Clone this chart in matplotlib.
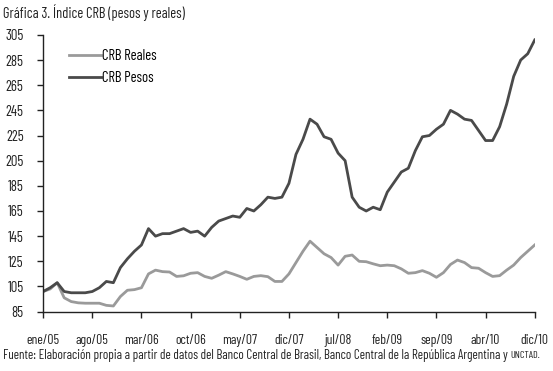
import matplotlib
matplotlib.use("Agg")
import matplotlib.pyplot as plt
from matplotlib import font_manager

# Monthly index values (ene/05 .. dic/10)
crb_pesos = [101, 104, 108, 101, 100, 100, 100, 101, 104, 109,
             108, 120, 127, 133, 138, 151, 145, 147, 147, 149,
             151, 148, 149, 145, 152, 157, 159, 161, 160, 167,
             165, 170, 176, 175, 176, 187, 210, 222, 238, 234,
             224, 222, 211, 205, 176, 168, 165, 168, 166, 180,
             188, 196, 199, 213, 224, 225, 230, 234, 245, 242,
             238, 237, 229, 221, 221, 232, 250, 272, 285, 290,
             301]
crb_reales = [101, 103, 108, 96, 93, 92, 91.7, 91.7, 91.7, 90,
              89.5, 97, 102, 102.5, 104, 115, 118, 116.8, 116.5, 113,
              113.5, 115.5, 116, 113, 111.5, 114, 116.8, 115, 113, 110.7,
              113, 113.6, 112.8, 109, 109, 115, 124, 133, 141, 136,
              131, 128, 122, 129, 130, 125, 124.7, 123, 121.5, 122,
              121.5, 119, 115.5, 116, 117.6, 115.5, 112.3, 116, 122.5, 126,
              124, 120, 119.5, 116, 113, 113.6, 118, 122, 128, 133,
              138]
tick_pos = [0, 7, 14, 21, 28, 35, 42, 49, 56, 63, 70]
tick_labels = ["ene/05", "ago/05", "mar/06", "oct/06", "may/07", "dic/07",
               "jul/08", "feb/09", "sep/09", "abr/10", "dic/10"]
y_ticks = list(range(85, 306, 20))

# condensed font if available, otherwise a plain sans
names = {f.name for f in font_manager.fontManager.ttflist}
if "Barlow Condensed" in names:
    plt.rcParams["font.family"] = ["Barlow Condensed", "DejaVu Sans"]
    k = 1.0
else:
    plt.rcParams["font.family"] = ["Liberation Sans", "DejaVu Sans"]
    k = 0.72
plt.rcParams["font.size"] = 10 * k

fig = plt.figure(figsize=(5.53, 3.71), dpi=100)
ax = fig.add_axes([0.078, 0.16, 0.889, 0.746])

x = range(len(crb_pesos))
ax.plot(x, crb_reales, color="#9a9a9a", lw=2, solid_joinstyle="round", label="CRB Reales")
ax.plot(x, crb_pesos, color="#4a4a4a", lw=2, solid_joinstyle="round", label="CRB Pesos")

ax.set_xlim(0, 70)
ax.set_ylim(85, 305)
ax.set_yticks(y_ticks)
ax.set_xticks(tick_pos)
ax.set_xticklabels(tick_labels)

for s in ("top", "right"):
    ax.spines[s].set_visible(False)
for s in ("left", "bottom"):
    ax.spines[s].set_color("#222222")
    ax.spines[s].set_linewidth(1.0)
ax.tick_params(axis="y", length=4, width=1.0, pad=10, labelsize=10.5 * k, colors="#222222")
ax.tick_params(axis="x", length=4, width=1.0, pad=12, labelsize=9.8 * k, colors="#222222")

ax.legend(loc="upper left", bbox_to_anchor=(0.025, 0.995), frameon=False,
          handlelength=2.2, handletextpad=0.1, labelspacing=0.55,
          fontsize=10.5 * k)

fig.text(0.006, 0.965, "Gráfica 3. Índice CRB (pesos y reales)",
         fontsize=10.4 * k, ha="left", va="center", color="#222222")
src = fig.text(0.006, 0.043,
               "Fuente: Elaboración propia a partir de datos del Banco Central de Brasil, "
               "Banco Central de la República Argentina y ",
               fontsize=9.4 * k, ha="left", va="center", color="#222222")
# UNCTAD is set in small caps in the original
fig.canvas.draw()
bb = src.get_window_extent().transformed(fig.transFigure.inverted())
fig.text(bb.x1, 0.043, "UNCTAD.", fontsize=7.4 * k, ha="left", va="center",
         color="#222222")

fig.savefig("out.png", dpi=100)
